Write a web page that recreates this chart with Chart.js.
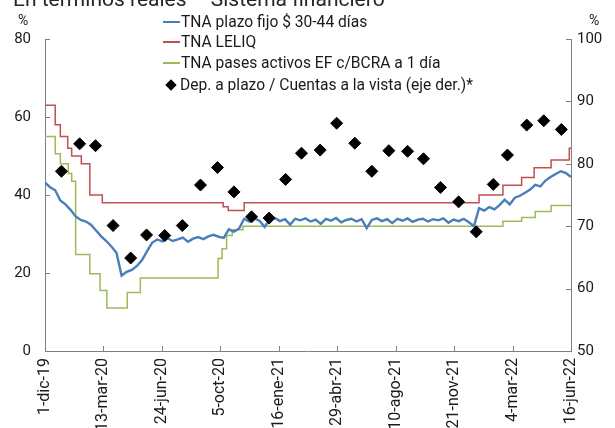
<!DOCTYPE html>
<html>
<head>
<meta charset="utf-8">
<script src="https://cdn.jsdelivr.net/npm/chart.js@4.4.1/dist/chart.umd.min.js"></script>
<style>
  html, body { margin: 0; padding: 0; background: #fff; overflow: hidden; }
  #wrap { position: relative; width: 615px; height: 428px; overflow: hidden; font-family: Roboto, "Noto Sans", sans-serif; color: #1a1a1a; }
  #c { position: absolute; left: 0; top: 0; }
  .abs { position: absolute; white-space: nowrap; }
  #title { left: 13px; top: -11px; font-size: 21px; line-height: 21px; color: #262626; }
  .pct { font-size: 14px; line-height: 14px; top: 13px; }
  .lg { position: absolute; left: 163px; height: 20px; display: flex; align-items: center; font-size: 15.6px; white-space: nowrap; }
  .sw { width: 17px; height: 2px; margin-right: 1px; }
  .dia { width: 8px; height: 8px; background: #000; transform: rotate(45deg); margin-left: 4px; margin-right: 5px; }
</style>
</head>
<body>
<div id="wrap">
  <canvas id="c" width="615" height="428"></canvas>
  <div id="title" class="abs">En términos reales – Sistema financiero</div>
  <div class="abs pct" style="left:18px;">%</div>
  <div class="abs pct" style="left:589px;">%</div>
  <div id="legend"></div>
</div>
<script>
// ---- Data (x = days since 1-dic-19) ----
const tickDays = [0, 103, 206, 309, 412, 515, 618, 721, 824, 927];
const tickLabels = ['1-dic-19', '13-mar-20', '24-jun-20', '5-oct-20', '16-ene-21', '29-abr-21', '10-ago-21', '21-nov-21', '4-mar-22', '16-jun-22'];

const seriesNames = ['TNA plazo fijo $ 30-44 días', 'TNA LELIQ', 'TNA pases activos EF c/BCRA a 1 día', 'Dep. a plazo / Cuentas a la vista (eje der.)*'];

// TNA plazo fijo: one reading every 9 days starting at day 0
const plazoFijoStepDays = 9;
const plazoFijoVals = [
  43.2, 42.0, 41.2, 38.6, 37.6, 36.2, 34.5, 33.6, 33.2, 32.4,
  30.9, 29.4, 28.2, 26.8, 25.2, 19.3, 20.3, 20.8, 21.8, 23.3,
  25.6, 27.8, 28.6, 28.1, 28.9, 28.2, 28.6, 29.1, 28.0, 28.8,
  29.2, 28.7, 29.4, 29.8, 29.3, 29.0, 31.2, 30.6, 31.4, 33.9,
  33.2, 34.0, 33.4, 31.8, 33.7, 34.1, 33.3, 33.8, 32.4, 33.9,
  33.5, 34.0, 33.2, 33.7, 32.6, 33.9, 33.4, 34.1, 33.0, 33.6,
  33.9, 33.2, 33.8, 31.5, 33.6, 34.0, 33.3, 33.8, 32.8, 33.9,
  33.4, 34.0, 33.1, 33.7, 33.9, 33.2, 33.8, 33.5, 34.0, 32.9,
  33.7, 33.3, 33.9, 33.0, 32.0, 36.6, 36.0, 36.9, 36.3, 37.4,
  38.8, 37.6, 39.3, 39.8, 40.6, 41.4, 42.6, 42.2, 43.7, 44.6,
  45.4, 46.1, 45.6, 44.6
];

// TNA LELIQ (step changes: value applies from that day on)
const leliqDays = [0, 18, 27, 40, 47, 64, 79, 101, 314, 323, 351, 765, 807, 840, 862, 892, 924, 927];
const leliqVals = [63, 58, 55, 52, 50, 48, 40, 38, 37, 36, 38, 40, 42.5, 44.5, 47, 49, 52, 52];

// TNA pases activos (step changes)
const pasesDays = [0, 18, 27, 41, 47, 54, 79, 97, 109, 145, 168, 305, 312, 320, 330, 349, 807, 840, 864, 892, 927];
const pasesVals = [55, 50.6, 48, 45.5, 43.5, 24.75, 19.8, 15.5, 11, 15, 18.7, 23.7, 26.2, 29.6, 31.1, 32, 33.3, 34.2, 35.8, 37.3, 37.3];

// Dep. a plazo / Cuentas a la vista (right axis), monthly
const depDays = [29, 61, 89, 120, 151, 179, 211, 242, 274, 304, 333, 364, 395, 424, 452, 485, 514, 546, 576, 606, 639, 667, 697, 729, 760, 790, 815, 849, 879, 910];
const depVals = [78.8, 83.2, 82.9, 70.1, 64.9, 68.6, 68.5, 70.1, 76.6, 79.4, 75.5, 71.5, 71.3, 77.5, 81.7, 82.2, 86.5, 83.3, 78.8, 82.1, 82.0, 80.8, 76.2, 73.9, 69.1, 76.7, 81.4, 86.2, 86.9, 85.5];

const leftTicks = [0, 20, 40, 60, 80];
const rightTicks = [50, 60, 70, 80, 90, 100];

const colors = { plazo: '#4a7ebb', leliq: '#c0504d', pases: '#9bbb59', dep: '#000000', axis: '#7f7f7f' };

// ---- Build datasets ----
const pairs = (xs, ys) => xs.map((x, i) => ({ x: x, y: ys[i] }));
const plazoData = plazoFijoVals.map((v, i) => ({ x: i * plazoFijoStepDays, y: v }));

// ---- Legend (HTML) ----
const legendRows = [
  { name: seriesNames[0], color: colors.plazo, type: 'line', top: 12 },
  { name: seriesNames[1], color: colors.leliq, type: 'line', top: 32 },
  { name: seriesNames[2], color: colors.pases, type: 'line', top: 53 },
  { name: seriesNames[3], color: colors.dep, type: 'dia', top: 75 }
];
const lg = document.getElementById('legend');
legendRows.forEach(r => {
  const row = document.createElement('div');
  row.className = 'lg';
  row.style.top = r.top + 'px';
  const sw = document.createElement('div');
  if (r.type === 'line') { sw.className = 'sw'; sw.style.background = r.color; }
  else { sw.className = 'dia'; }
  const tx = document.createElement('span');
  tx.textContent = r.name;
  row.appendChild(sw); row.appendChild(tx);
  lg.appendChild(row);
});

// ---- Inner tick marks plugin ----
const innerTicks = {
  id: 'innerTicks',
  afterDraw(chart) {
    const ctx = chart.ctx, a = chart.chartArea;
    ctx.save();
    ctx.strokeStyle = colors.axis;
    ctx.lineWidth = 1;
    ctx.beginPath();
    const sy = chart.scales.y, sy1 = chart.scales.y1, sx = chart.scales.x;
    sy.ticks.forEach(t => { const p = Math.round(sy.getPixelForValue(t.value)) + 0.5; ctx.moveTo(a.left, p); ctx.lineTo(a.left + 5, p); });
    sy1.ticks.forEach(t => { const p = Math.round(sy1.getPixelForValue(t.value)) + 0.5; ctx.moveTo(a.right, p); ctx.lineTo(a.right - 5, p); });
    sx.ticks.forEach(t => { const p = Math.round(sx.getPixelForValue(t.value)) + 0.5; ctx.moveTo(p, a.bottom); ctx.lineTo(p, a.bottom - 5); });
    ctx.stroke();
    ctx.restore();
  }
};

const tickFont = { family: 'Roboto', size: 15 };

new Chart(document.getElementById('c'), {
  type: 'line',
  data: {
    datasets: [
      {
        type: 'scatter', label: seriesNames[3], data: pairs(depDays, depVals), yAxisID: 'y1',
        pointStyle: 'rectRot', pointRadius: 6, pointBackgroundColor: colors.dep, pointBorderColor: colors.dep,
        pointBorderWidth: 1, showLine: false
      },
      {
        label: seriesNames[0], data: plazoData, yAxisID: 'y', borderColor: colors.plazo,
        borderWidth: 2.4, pointRadius: 0, tension: 0, fill: false
      },
      {
        label: seriesNames[1], data: pairs(leliqDays, leliqVals), yAxisID: 'y', borderColor: colors.leliq,
        borderWidth: 1.5, pointRadius: 0, stepped: 'before', fill: false
      },
      {
        label: seriesNames[2], data: pairs(pasesDays, pasesVals), yAxisID: 'y', borderColor: colors.pases,
        borderWidth: 1.5, pointRadius: 0, stepped: 'before', fill: false
      }
    ]
  },
  options: {
    responsive: false,
    animation: false,
    devicePixelRatio: 1,
    layout: { padding: { top: 39, left: 0, right: 0, bottom: 0 } },
    plugins: { legend: { display: false }, tooltip: { enabled: false } },
    scales: {
      x: {
        type: 'linear', min: tickDays[0], max: tickDays[tickDays.length - 1],
        afterBuildTicks: s => { s.ticks = tickDays.map(v => ({ value: v })); },
        afterFit: s => { s.height = 77; },
        grid: { display: false, drawTicks: false },
        border: { display: true, color: colors.axis, width: 1 },
        ticks: {
          autoSkip: false, maxRotation: 90, minRotation: 90, padding: 7,
          color: '#1a1a1a', font: { family: 'Roboto', size: 16 },
          callback: (v, i) => tickLabels[i]
        }
      },
      y: {
        position: 'left', min: leftTicks[0], max: leftTicks[leftTicks.length - 1],
        afterBuildTicks: s => { s.ticks = leftTicks.map(v => ({ value: v })); },
        afterFit: s => { s.width = 45; },
        grid: { display: false, drawTicks: false },
        border: { display: true, color: colors.axis, width: 1 },
        ticks: { padding: 14, color: '#1a1a1a', font: tickFont }
      },
      y1: {
        position: 'right', min: rightTicks[0], max: rightTicks[rightTicks.length - 1],
        afterBuildTicks: s => { s.ticks = rightTicks.map(v => ({ value: v })); },
        afterFit: s => { s.width = 44; },
        grid: { display: false, drawTicks: false },
        border: { display: true, color: colors.axis, width: 1 },
        ticks: { padding: 6, color: '#1a1a1a', font: tickFont }
      }
    }
  },
  plugins: [innerTicks]
});
</script>
</body>
</html>
